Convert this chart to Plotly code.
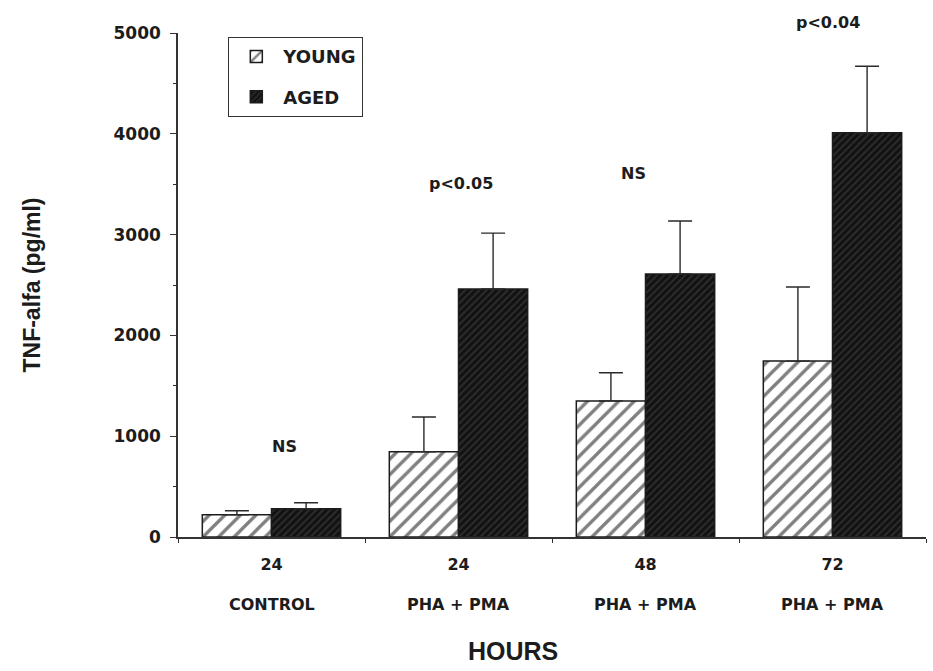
import plotly.graph_objects as go

# Conditions (unique category keys), hour tick labels and treatment names
conditions = ["24 CONTROL", "24 PHA + PMA", "48 PHA + PMA", "72 PHA + PMA"]
hours = ["24", "24", "48", "72"]
treatments = ["CONTROL", "PHA + PMA", "PHA + PMA", "PHA + PMA"]

# TNF-alfa (pg/ml), mean and upper error
young = [220, 845, 1350, 1745]
young_err = [40, 345, 280, 735]
aged = [280, 2460, 2610, 4010]
aged_err = [60, 555, 525, 660]

# Significance labels above each group
sig_labels = ["NS", "p<0.05", "NS", "p<0.04"]

y_ticks = [0, 1000, 2000, 3000, 4000, 5000]

FONT = "DejaVu Sans"
INK = "#1c1c1c"

fig = go.Figure()
fig.add_trace(go.Bar(
    name="YOUNG", x=conditions, y=young, legendgroup="young",
    marker=dict(color="white", line=dict(color=INK, width=1.5),
                pattern=dict(shape="/", fgcolor="#000000", bgcolor="white",
                             size=11, solidity=0.3)),
    error_y=dict(type="data", array=young_err, arrayminus=[0] * 4,
                 symmetric=False, color="#2a2a2a", thickness=1.4, width=12),
))
fig.add_trace(go.Bar(
    name="AGED", x=conditions, y=aged, legendgroup="aged",
    marker=dict(color="#141414", line=dict(color=INK, width=1.5),
                pattern=dict(shape="/", fgcolor="#4a4a4a", bgcolor="#121212",
                             size=5, solidity=0.35)),
    error_y=dict(type="data", array=aged_err, arrayminus=[0] * 4,
                 symmetric=False, color="#2a2a2a", thickness=1.4, width=12),
))

# Significance labels sit a little above the taller error bar of each group
label_shift = [(56, 13), (50, 2), (47, -12), (44, -5)]
for i, (cond, lab) in enumerate(zip(conditions, sig_labels)):
    top = max(young[i] + young_err[i], aged[i] + aged_err[i])
    dy, dx = label_shift[i]
    fig.add_annotation(x=cond, y=top, text=lab, showarrow=False,
                       xshift=dx, yshift=dy, yanchor="middle",
                       font=dict(family=FONT, size=16, color=INK, weight="bold"))

for cond, name in zip(conditions, treatments):
    fig.add_annotation(x=cond, y=-0.133, yref="paper", text=name,
                       showarrow=False, yanchor="middle",
                       font=dict(family=FONT, size=16, color=INK, weight="bold"))

fig.add_annotation(x=0.448, y=-0.226, xref="paper", yref="paper",
                   text="HOURS", showarrow=False, yanchor="middle",
                   font=dict(family="Liberation Sans", size=25, color=INK,
                             weight="bold"))

fig.update_layout(
    width=933, height=671,
    margin=dict(l=178, r=7, t=33, b=134),
    paper_bgcolor="white", plot_bgcolor="white",
    barmode="group", bargap=0.26, bargroupgap=0,
    showlegend=True,
    legend=dict(x=0.067, y=0.992, xanchor="left", yanchor="top",
                bordercolor="#333333", borderwidth=1.2, bgcolor="white",
                font=dict(family=FONT, size=18, color=INK, weight="bold"),
                tracegroupgap=14, traceorder="grouped", itemwidth=44),
    xaxis=dict(type="category", tickson="boundaries", ticks="outside",
               ticklen=4, tickcolor="#333333", showline=True,
               linecolor="#333333", linewidth=1.5, showgrid=False,
               tickvals=conditions, ticktext=hours, range=[-0.5, 3.5],
               ticklabelstandoff=12,
               tickfont=dict(family=FONT, size=16, color=INK, weight="bold")),
    yaxis=dict(range=[0, 5000], tickvals=y_ticks, ticks="outside", ticklen=6,
               tickcolor="#333333", showline=True, linecolor="#333333",
               linewidth=1.5, showgrid=False, zeroline=False,
               ticklabelstandoff=6,
               minor=dict(dtick=500, ticks="outside", ticklen=3,
                          tickcolor="#333333"),
               tickfont=dict(family=FONT, size=17, color=INK, weight="bold"),
               title=dict(text="TNF-alfa (pg/ml)", standoff=66,
                          font=dict(family="Liberation Sans", size=23,
                                    color=INK, weight="bold"))),
)

fig.write_html("out.html")
